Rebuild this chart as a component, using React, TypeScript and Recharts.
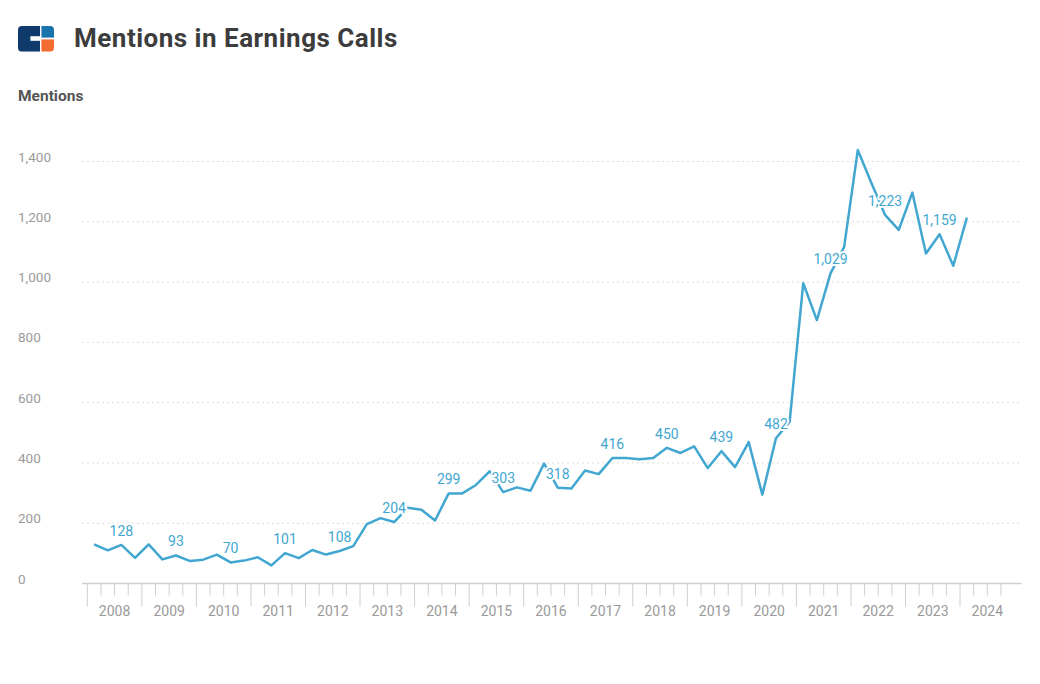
import React from "react";
import { LineChart, Line, XAxis, YAxis, CartesianGrid, LabelList } from "recharts";

// quarterly mentions, 2008 Q1 .. 2024 Q1
const years = [2008, 2009, 2010, 2011, 2012, 2013, 2014, 2015, 2016, 2017, 2018, 2019, 2020, 2021, 2022, 2023, 2024];
const mentions2008to2015 = [
  130, 110, 128, 85, 130, 80, 93, 75, 79, 96, 70, 76, 87, 60, 101, 84,
  111, 96, 108, 124, 197, 217, 204, 251, 245, 209, 299, 299, 327, 372, 303, 319,
];
const mentions2016to2024 = [
  308, 398, 318, 315, 375, 363, 416, 416, 412, 416, 450, 433, 455, 383, 439, 386,
  469, 295, 482, 536, 996, 874, 1029, 1117, 1438, 1329, 1223, 1173, 1297, 1095, 1159, 1054,
  1214,
];
const mentions = [...mentions2008to2015, ...mentions2016to2024];
const yTicks = [0, 200, 400, 600, 800, 1000, 1200, 1400];
const yMax = 1500;
const labelQuarter = 2; // values shown for Q3 of each year

const BLUE = "#42a7d0";
const FONT = "Roboto, 'Noto Sans', sans-serif";

const data = mentions.map((v, i) => ({ q: i + 0.5, v }));
const quarterStarts = years.flatMap((_, yi) => [0, 1, 2, 3].map((k) => yi * 4 + k));

function XTick({ x, y, payload }: any) {
  const v = payload.value as number;
  const major = v % 4 === 0;
  return (
    <g>
      <line x1={x} x2={x} y1={y} y2={y + (major ? 23 : 12)} stroke="#cfcfcf" strokeWidth={1} />
      {v % 4 === 2 && (
        <text x={x} y={y + 32} textAnchor="middle" fill="#9a9a9a" fontSize={14} fontFamily={FONT}>
          {years[Math.floor(v / 4)]}
        </text>
      )}
    </g>
  );
}

function YTick({ y, payload }: any) {
  return (
    <text x={18} y={y} textAnchor="start" fill="#9a9a9a" fontSize={13.5} fontFamily={FONT}>
      {Number(payload.value).toLocaleString("en-US")}
    </text>
  );
}

function PointLabel(props: any) {
  const { x, y, value, index } = props;
  if (index % 4 !== labelQuarter) return null;
  return (
    <text
      x={x}
      y={y - 9}
      textAnchor="middle"
      fill={BLUE}
      fontSize={14}
      fontFamily={FONT}
      stroke="#fff"
      strokeWidth={4}
      strokeLinejoin="round"
      paintOrder="stroke"
    >
      {Number(value).toLocaleString("en-US")}
    </text>
  );
}

function gridRows({ yAxis, offset }: any) {
  if (yAxis && typeof yAxis.scale === "function") return yTicks.map((t) => yAxis.scale(t));
  const top = offset?.top ?? 131.4;
  const h = offset?.height ?? 452.1;
  return yTicks.map((t) => top + h * (1 - t / yMax));
}

function Logo() {
  return (
    <svg width={36} height={26} style={{ position: "absolute", left: 18, top: 26 }}>
      <defs>
        <clipPath id="logoClip">
          <rect x={0} y={0} width={36} height={25.7} rx={4} />
        </clipPath>
      </defs>
      <g clipPath="url(#logoClip)">
        <rect x={0} y={0} width={22} height={25.7} fill="#0f3b6c" />
        <rect x={12.4} y={10.2} width={10} height={4.6} fill="#fff" />
        <rect x={23.4} y={0} width={12.6} height={11.6} fill="#1a73ad" />
        <rect x={23.4} y={13.4} width={12.6} height={12.3} fill="#f26b30" />
      </g>
    </svg>
  );
}

export default function App() {
  return (
    <div style={{ position: "absolute", left: 0, top: 0, width: 1040, height: 684, background: "#fff", fontFamily: FONT }}>
      <Logo />
      <div
        style={{
          position: "absolute",
          left: 74,
          top: 24.8,
          fontSize: 26,
          lineHeight: "26px",
          letterSpacing: 0.5,
          fontWeight: 700,
          color: "#3c3c3c",
          whiteSpace: "nowrap",
        }}
      >
        Mentions in Earnings Calls
      </div>
      <div
        style={{
          position: "absolute",
          left: 18,
          top: 88.6,
          fontSize: 15.5,
          lineHeight: "15.5px",
          fontWeight: 700,
          color: "#555",
        }}
      >
        Mentions
      </div>
      <div style={{ position: "absolute", left: 0, top: 0 }}>
        <LineChart
          width={1040}
          height={684}
          data={data}
          margin={{ top: 131.4, right: 18.3, bottom: 60.5, left: 18 }}
        >
          <CartesianGrid
            vertical={false}
            stroke="#dcdcdc"
            strokeDasharray="2 3"
            horizontalCoordinatesGenerator={gridRows}
          />
          <XAxis
            type="number"
            dataKey="q"
            domain={[-0.39, 68.52]}
            allowDataOverflow
            ticks={quarterStarts}
            interval={0}
            tick={<XTick />}
            tickLine={false}
            tickSize={0}
            tickMargin={0}
            axisLine={{ stroke: "#cfcfcf", strokeWidth: 1.5 }}
            height={40}
          />
          <YAxis
            type="number"
            domain={[0, yMax]}
            allowDataOverflow
            ticks={yTicks}
            interval={0}
            tick={<YTick />}
            tickLine={false}
            axisLine={false}
            width={64}
          />
          <Line
            type="linear"
            dataKey="v"
            stroke={BLUE}
            strokeWidth={2.5}
            strokeLinejoin="round"
            dot={false}
            activeDot={false}
            isAnimationActive={false}
          >
            <LabelList dataKey="v" content={<PointLabel />} />
          </Line>
        </LineChart>
      </div>
    </div>
  );
}
